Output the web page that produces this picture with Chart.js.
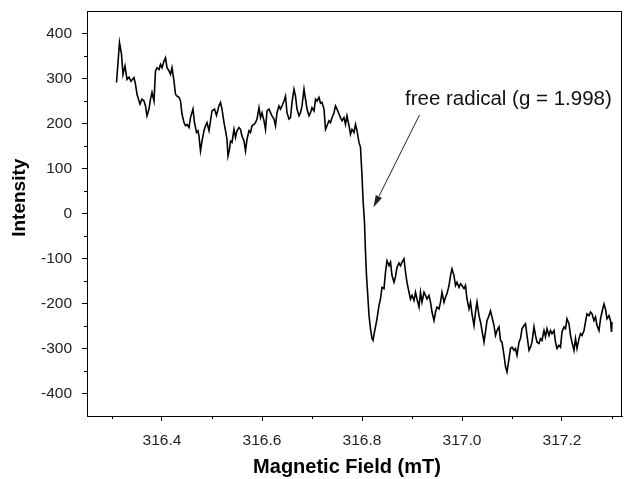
<!DOCTYPE html>
<html>
<head>
<meta charset="utf-8">
<script src="https://cdn.jsdelivr.net/npm/chart.js@4.4.0/dist/chart.umd.min.js"></script>
<style>
  html, body { margin: 0; padding: 0; background: #fff; }
  #wrap { width: 635px; height: 479px; }
</style>
</head>
<body>
<div id="wrap"><canvas id="grafico" width="635" height="479"></canvas></div>
<script>
const field = [
  316.309, 316.315, 316.319, 316.322, 316.326, 316.330, 316.334, 316.338, 316.344, 316.347,
  316.350, 316.356, 316.360, 316.364, 316.367, 316.370, 316.374, 316.377, 316.380, 316.384,
  316.387, 316.390, 316.394, 316.397, 316.400, 316.404, 316.407, 316.410, 316.414, 316.417,
  316.420, 316.424, 316.427, 316.430, 316.434, 316.437, 316.440, 316.444, 316.447, 316.450,
  316.454, 316.457, 316.462, 316.465, 316.469, 316.472, 316.474, 316.477, 316.480, 316.484,
  316.487, 316.490, 316.494, 316.497, 316.500, 316.505, 316.509, 316.514, 316.517, 316.520,
  316.524, 316.527, 316.530, 316.532, 316.535, 316.537, 316.540, 316.544, 316.547, 316.550,
  316.554, 316.557, 316.560, 316.564, 316.567, 316.570, 316.574, 316.577, 316.580, 316.584,
  316.587, 316.590, 316.594, 316.597, 316.600, 316.604, 316.607, 316.610, 316.614, 316.617,
  316.620, 316.624, 316.627, 316.630, 316.634, 316.637, 316.640, 316.644, 316.647, 316.650,
  316.654, 316.657, 316.660, 316.664, 316.667, 316.670, 316.674, 316.677, 316.680, 316.684,
  316.687, 316.690, 316.694, 316.697, 316.700, 316.704, 316.707, 316.710, 316.714, 316.717,
  316.720, 316.724, 316.727, 316.730, 316.734, 316.737, 316.740, 316.744, 316.747, 316.750,
  316.754, 316.757, 316.760, 316.764, 316.767, 316.770, 316.774, 316.777, 316.780, 316.784,
  316.787, 316.790, 316.794, 316.797, 316.800, 316.802, 316.805, 316.807, 316.809, 316.812,
  316.814, 316.817, 316.820, 316.822, 316.825, 316.827, 316.830, 316.834, 316.837, 316.840,
  316.844, 316.847, 316.850, 316.854, 316.857, 316.860, 316.864, 316.867, 316.870, 316.874,
  316.877, 316.880, 316.884, 316.887, 316.890, 316.894, 316.897, 316.900, 316.904, 316.907,
  316.910, 316.914, 316.917, 316.920, 316.924, 316.927, 316.930, 316.934, 316.937, 316.940,
  316.944, 316.947, 316.950, 316.954, 316.957, 316.960, 316.964, 316.967, 316.970, 316.974,
  316.977, 316.980, 316.984, 316.987, 316.990, 316.994, 316.997, 317.000, 317.004, 317.007,
  317.010, 317.014, 317.017, 317.020, 317.024, 317.027, 317.030, 317.034, 317.037, 317.040,
  317.044, 317.047, 317.050, 317.054, 317.057, 317.060, 317.064, 317.067, 317.070, 317.074,
  317.077, 317.080, 317.084, 317.087, 317.090, 317.094, 317.097, 317.100, 317.104, 317.107,
  317.110, 317.114, 317.117, 317.120, 317.124, 317.127, 317.130, 317.134, 317.137, 317.140,
  317.144, 317.147, 317.150, 317.154, 317.157, 317.160, 317.164, 317.167, 317.170, 317.174,
  317.177, 317.180, 317.184, 317.187, 317.190, 317.194, 317.197, 317.200, 317.204, 317.207,
  317.210, 317.214, 317.217, 317.220, 317.224, 317.227, 317.230, 317.234, 317.237, 317.240,
  317.244, 317.247, 317.250, 317.254, 317.257, 317.260, 317.264, 317.267, 317.270, 317.274,
  317.277, 317.280, 317.284, 317.287, 317.290, 317.294, 317.297, 317.299, 317.300
];

// intensidad (u.a.)
const intensity = [
  291, 380, 354, 309, 328, 298, 303, 294, 302, 287,
  265, 243, 254, 250, 239, 217, 232, 254, 269, 250,
  317, 324, 320, 331, 324, 339, 346, 324, 317, 309,
  324, 294, 265, 261, 258, 250, 221, 202, 195, 198,
  191, 213, 232, 202, 180, 184, 172, 139, 161, 184,
  195, 202, 184, 206, 228, 232, 218, 240, 247, 232,
  202, 184, 165, 128, 143, 161, 158, 187, 169, 184,
  191, 187, 172, 161, 139, 165, 184, 180, 195, 198,
  202, 210, 235, 213, 224, 206, 187, 228, 232, 224,
  217, 210, 195, 224, 239, 232, 239, 250, 261, 224,
  210, 213, 247, 276, 261, 232, 217, 224, 239, 276,
  254, 232, 217, 224, 235, 228, 254, 250, 258, 245,
  247, 232, 187, 195, 206, 202, 213, 224, 239, 232,
  221, 213, 206, 213, 198, 217, 195, 176, 187, 180,
  198, 184, 158, 147, 84, 32, -20, -86, -138, -190,
  -227, -256, -278, -282, -263, -252, -234, -204, -190, -164,
  -167, -130, -105, -116, -108, -138, -153, -140, -120, -110,
  -116, -108, -101, -130, -153, -175, -190, -182, -193, -175,
  -190, -208, -175, -197, -175, -182, -190, -182, -197, -219,
  -238, -219, -208, -212, -197, -175, -197, -186, -178, -160,
  -138, -123, -138, -160, -153, -164, -156, -160, -167, -160,
  -190, -212, -197, -223, -249, -219, -197, -227, -241, -260,
  -286, -263, -238, -227, -216, -230, -249, -271, -260, -252,
  -282, -286, -315, -340, -352, -323, -300, -297, -304, -300,
  -315, -286, -278, -256, -249, -245, -271, -304, -297, -286,
  -252, -271, -286, -289, -278, -282, -260, -274, -256, -271,
  -260, -267, -260, -286, -300, -293, -297, -263, -252, -256,
  -234, -245, -271, -286, -304, -278, -300, -278, -267, -271,
  -260, -241, -223, -227, -219, -223, -238, -230, -249, -260,
  -234, -219, -201, -212, -234, -227, -238, -263, -241
];

const xMajor = [316.4, 316.6, 316.8, 317.0, 317.2];
const xMinor = [316.3, 316.5, 316.7, 316.9, 317.1, 317.3];
const yMajor = [-400, -300, -200, -100, 0, 100, 200, 300, 400];
const yMinor = [-350, -250, -150, -50, 50, 150, 250, 350];

const tituloX = "Magnetic Field (mT)";
const tituloY = "Intensity";

// flecha de la anotacion: [campo, intensidad]
const flechaDesde = [316.915, 219];
const flechaHasta = [316.823, 14];
const etiqueta = "free radical (g = 1.998)";
const etiquetaPos = [316.886, 254];

const fuente = "'Liberation Sans', Arial, sans-serif";

const puntos = field.map((f, i) => ({ x: f, y: intensity[i] }));

const marcoYMarcas = {
  id: "marcoYMarcas",
  afterDraw(chart) {
    const { ctx, chartArea: a, scales: { x, y } } = chart;
    ctx.save();
    ctx.strokeStyle = "#000";
    ctx.lineWidth = 1;
    ctx.strokeRect(a.left + 0.5, a.top + 0.5, a.right - a.left - 1, a.bottom - a.top);

    ctx.beginPath();
    xMinor.forEach((v) => {
      const p = Math.round(x.getPixelForValue(v)) + 0.5;
      ctx.moveTo(p, a.bottom);
      ctx.lineTo(p, a.bottom + 3);
    });
    yMinor.forEach((v) => {
      const p = Math.round(y.getPixelForValue(v)) + 0.5;
      ctx.moveTo(a.left, p);
      ctx.lineTo(a.left - 3, p);
    });
    ctx.stroke();

    // flecha
    const x1 = x.getPixelForValue(flechaDesde[0]);
    const y1 = y.getPixelForValue(flechaDesde[1]);
    const x2 = x.getPixelForValue(flechaHasta[0]);
    const y2 = y.getPixelForValue(flechaHasta[1]);
    const ang = Math.atan2(y2 - y1, x2 - x1);
    const largo = 12, ancho = 3.5;
    ctx.strokeStyle = "#222";
    ctx.fillStyle = "#222";
    ctx.beginPath();
    ctx.moveTo(x1, y1);
    ctx.lineTo(x2 - largo * Math.cos(ang), y2 - largo * Math.sin(ang));
    ctx.stroke();
    ctx.beginPath();
    ctx.moveTo(x2, y2);
    ctx.lineTo(x2 - largo * Math.cos(ang) + ancho * Math.sin(ang), y2 - largo * Math.sin(ang) - ancho * Math.cos(ang));
    ctx.lineTo(x2 - largo * Math.cos(ang) - ancho * Math.sin(ang), y2 - largo * Math.sin(ang) + ancho * Math.cos(ang));
    ctx.closePath();
    ctx.fill();

    ctx.font = "20.5px " + fuente;
    ctx.fillStyle = "#111";
    ctx.textAlign = "left";
    ctx.textBaseline = "middle";
    ctx.fillText(etiqueta, x.getPixelForValue(etiquetaPos[0]), y.getPixelForValue(etiquetaPos[1]));

    // titulos de ejes
    ctx.fillStyle = "#000";
    ctx.font = "bold 20px " + fuente;
    ctx.textAlign = "center";
    ctx.fillText(tituloX, x.getPixelForValue(316.77), 467);
    ctx.translate(20, y.getPixelForValue(35));
    ctx.rotate(-Math.PI / 2);
    ctx.font = "bold 19px " + fuente;
    ctx.fillText(tituloY, 0, 0);
    ctx.restore();
  }
};

new Chart(document.getElementById("grafico"), {
  type: "line",
  data: {
    datasets: [{
      data: puntos,
      borderColor: "#000",
      borderWidth: 1.6,
      pointRadius: 0,
      tension: 0,
      fill: false
    }]
  },
  options: {
    responsive: false,
    animation: false,
    devicePixelRatio: 1,
    layout: { padding: { top: 11, right: 13, left: 0, bottom: 0 } },
    plugins: { legend: { display: false }, tooltip: { enabled: false } },
    scales: {
      x: {
        type: "linear",
        min: 316.25,
        max: 317.32,
        afterBuildTicks: (s) => { s.ticks = xMajor.map((v) => ({ value: v })); },
        afterFit: (s) => { s.height = 63; s.paddingLeft = 0; s.paddingRight = 0; },
        ticks: {
          callback: (v) => v.toFixed(1),
          font: { size: 15.5, family: fuente },
          color: "#222",
          padding: 10,
          maxRotation: 0
        },
        grid: { drawOnChartArea: false, tickLength: 5, color: "#000" },
        border: { color: "#000" }
      },
      y: {
        min: -450,
        max: 450,
        afterBuildTicks: (s) => { s.ticks = yMajor.map((v) => ({ value: v })); },
        afterFit: (s) => { s.width = 87; s.paddingTop = 0; s.paddingBottom = 0; },
        ticks: {
          font: { size: 15.5, family: fuente },
          color: "#222",
          padding: 10
        },
        grid: { drawOnChartArea: false, tickLength: 5, color: "#000" },
        border: { color: "#000" }
      }
    }
  },
  plugins: [marcoYMarcas]
});
</script>
</body>
</html>
